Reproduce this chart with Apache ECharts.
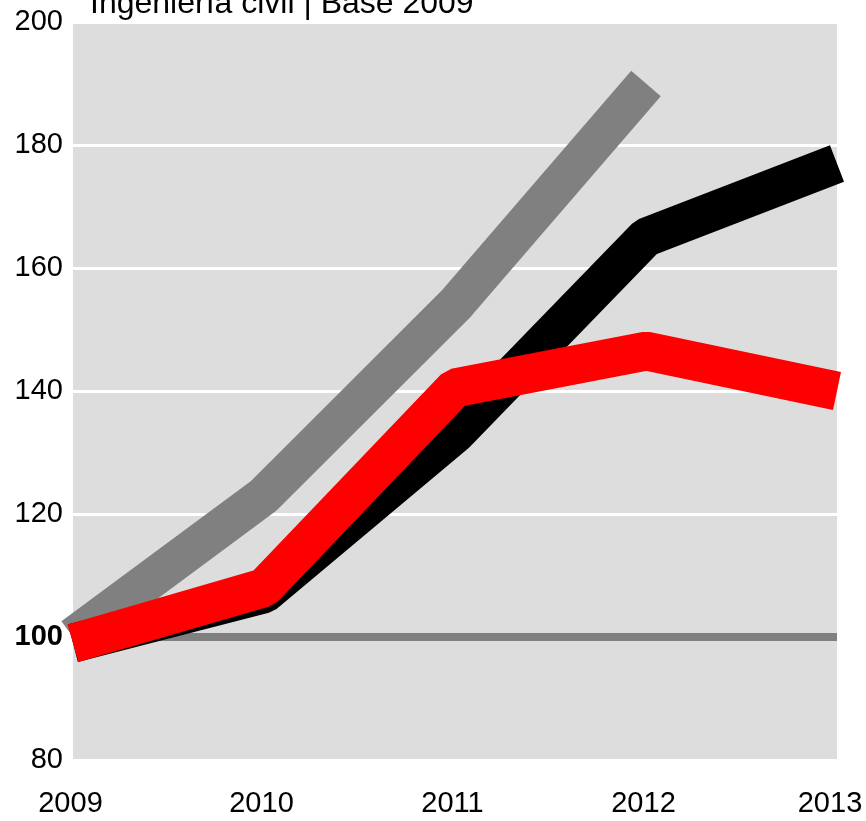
<!DOCTYPE html>
<html>
<head>
<meta charset="utf-8">
<script src="https://cdn.jsdelivr.net/npm/echarts@6/dist/echarts.min.js"></script>
<style>
  html, body { margin: 0; padding: 0; background: #fff; }
  #chart { width: 866px; height: 821px; }
</style>
</head>
<body>
<div id="chart"></div>
<script>
// indices, base 2009 = 100
var years = ['2009', '2010', '2011', '2012', '2013']
var grey = [100, 123, 154, 190, null]
var black = [99, 107, 133, 165, 177]
var red = [99, 108, 140.5, 146.5, 140]
var base = [100, 100, 100, 100, 100]
var titleText = 'Ingeniería civil | Base 2009'

var chart = echarts.init(document.getElementById('chart'))

function thick (name, color, data, z) {
  return {
    name: name,
    type: 'line',
    data: data,
    symbol: 'none',
    clip: false,
    z: z,
    silent: true,
    lineStyle: {
      color: color,
      width: 39,
      cap: 'butt',
      join: 'bevel'
    }
  }
}

chart.setOption({
  animation: false,
  textStyle: {
    fontFamily: 'Liberation Sans, Arial, sans-serif'
  },
  title: {
    text: titleText,
    left: 90,
    top: -12,
    padding: 0,
    textStyle: {
      fontSize: 32,
      fontWeight: 'normal',
      color: '#000',
      fontFamily: 'Liberation Sans, Arial, sans-serif'
    }
  },
  grid: {
    left: 73,
    right: 29,
    top: 22,
    bottom: 61,
    containLabel: false,
    outerBoundsMode: 'none',
    show: true,
    backgroundColor: '#dddddd',
    borderWidth: 0
  },
  xAxis: {
    type: 'category',
    data: years,
    boundaryGap: false,
    axisLine: { show: false },
    axisTick: { show: false },
    axisLabel: {
      color: '#000',
      margin: 29,
      interval: 0,
      // last year label is pulled in so it stays on the page
      formatter: function (v, i) {
        return i === years.length - 1 ? '{last|' + v + '}' : '{yr|' + v + '}'
      },
      rich: {
        yr: { fontSize: 29, color: '#000', padding: [0, 5, 0, 0] },
        last: { fontSize: 29, color: '#000', padding: [0, 14, 0, 0] }
      }
    }
  },
  yAxis: {
    type: 'value',
    min: 80,
    max: 200,
    interval: 20,
    axisLine: { show: false },
    axisTick: { show: false },
    axisLabel: {
      fontSize: 29,
      color: '#000',
      margin: 10,
      formatter: function (v) {
        return v === 100 ? '{b|100}' : String(v)
      },
      rich: {
        b: { fontSize: 29, fontWeight: 'bold', color: '#000' }
      }
    },
    splitLine: {
      lineStyle: { color: '#ffffff', width: 3 }
    }
  },
  series: [
    {
      name: 'base',
      type: 'line',
      data: base,
      symbol: 'none',
      silent: true,
      z: 1,
      lineStyle: { color: '#808080', width: 8, cap: 'butt' }
    },
    thick('grey', '#808080', grey, 2),
    thick('black', '#000000', black, 3),
    thick('red', '#ff0000', red, 4)
  ]
})
</script>
</body>
</html>
